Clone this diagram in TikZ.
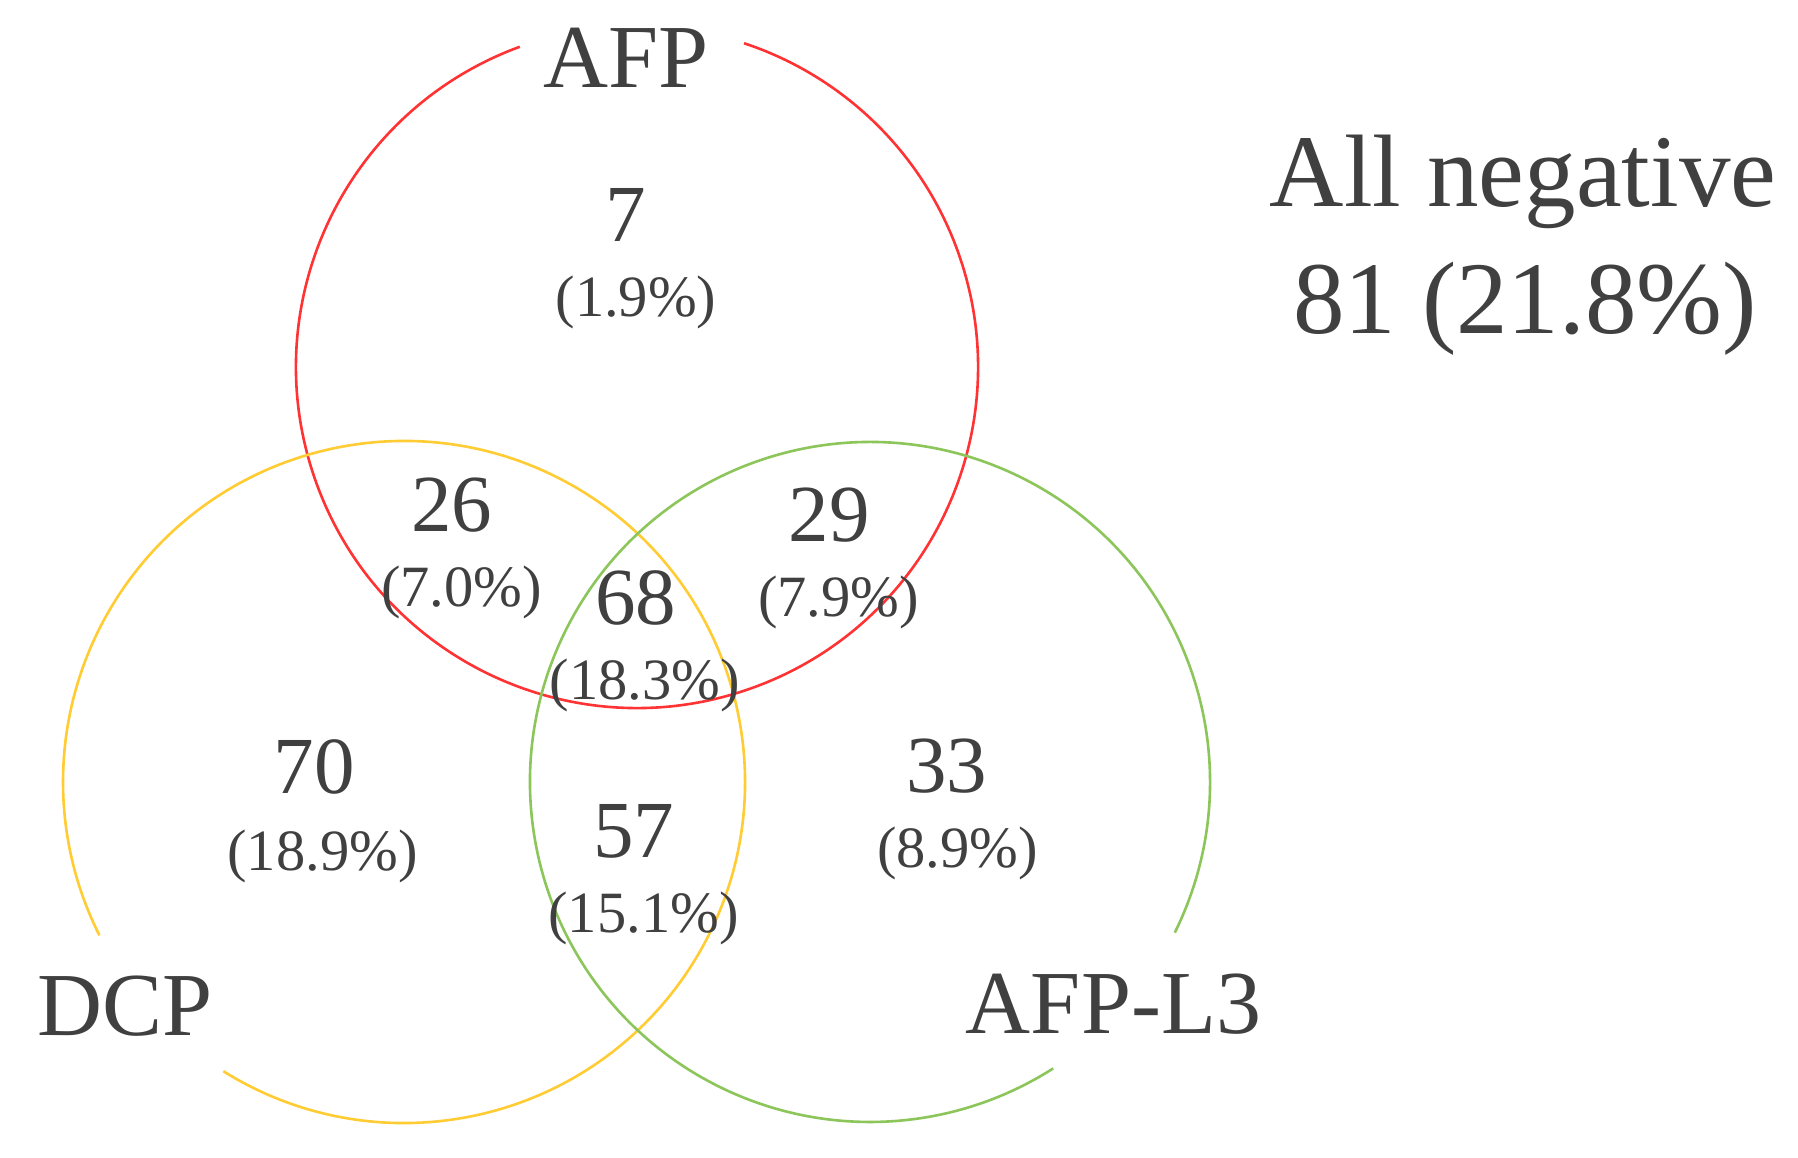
\documentclass[tikz,border=0pt]{standalone}
\usepackage{fontspec}
\setmainfont{Liberation Serif}
\definecolor{txt}{RGB}{64,64,64}
\definecolor{cred}{RGB}{255,51,51}
\definecolor{cyel}{RGB}{255,204,51}
\definecolor{cgrn}{RGB}{140,198,90}
\begin{document}
\begin{tikzpicture}[x=1pt,y=1pt,
  every node/.style={inner sep=0pt, text=txt, anchor=base},
  lbl/.style={font=\fontsize{90}{100}\selectfont},
  big/.style={font=\fontsize{103}{120}\selectfont},
  num/.style={font=\fontsize{81}{95}\selectfont},
  pct/.style={font=\fontsize{58.5}{70}\selectfont},
  ring/.style={line width=2.6pt}]
\fill[white] (0,0) rectangle (1798,1157);
\useasboundingbox (0,0) rectangle (1798,1157);
% circles with gaps for labels
\draw[ring, cred] (637,790) ++(110.1:341) arc[start angle=110.1, end angle=431.7, radius=341];
\draw[ring, cyel] (404,375) ++(238:341) arc[start angle=238, end angle=566.7, radius=341];
\draw[ring, cgrn] (870,375) ++(333.7:340) arc[start angle=333.7, end angle=662.6, radius=340];
% set labels
\node[lbl] (afp) at (626.5,1069) {AFP};
\node[lbl] (dcp) at (125.5,122) {DCP};
\node[lbl] (afpl) at (1113.5,124) {AFP-L3};
% all negative
\node[big] (neg1) at (1523,950) {All negative};
\node[big] (neg2) at (1525,823) {81 (21.8\%)};
% region counts
\node[num] (n7) at (626,915) {7};
\node[pct] (p7) at (636,840) {(1.9\%)};
\node[num] (n26) at (451.5,625) {26};
\node[pct] (p26) at (461.5,550) {(7.0\%)};
\node[num] (n68) at (635.5,532) {68};
\node[pct] (p68) at (645,457) {(18.3\%)};
\node[num] (n29) at (829,615) {29};
\node[pct] (p29) at (838.5,540) {(7.9\%)};
\node[num] (n70) at (314,363) {70};
\node[pct] (p70) at (322.5,287) {(18.9\%)};
\node[num] (n57) at (633.5,300) {57};
\node[pct] (p57) at (643.5,225) {(15.1\%)};
\node[num] (n33) at (946.5,364) {33};
\node[pct] (p33) at (957.5,290) {(8.9\%)};
\end{tikzpicture}
\end{document}
